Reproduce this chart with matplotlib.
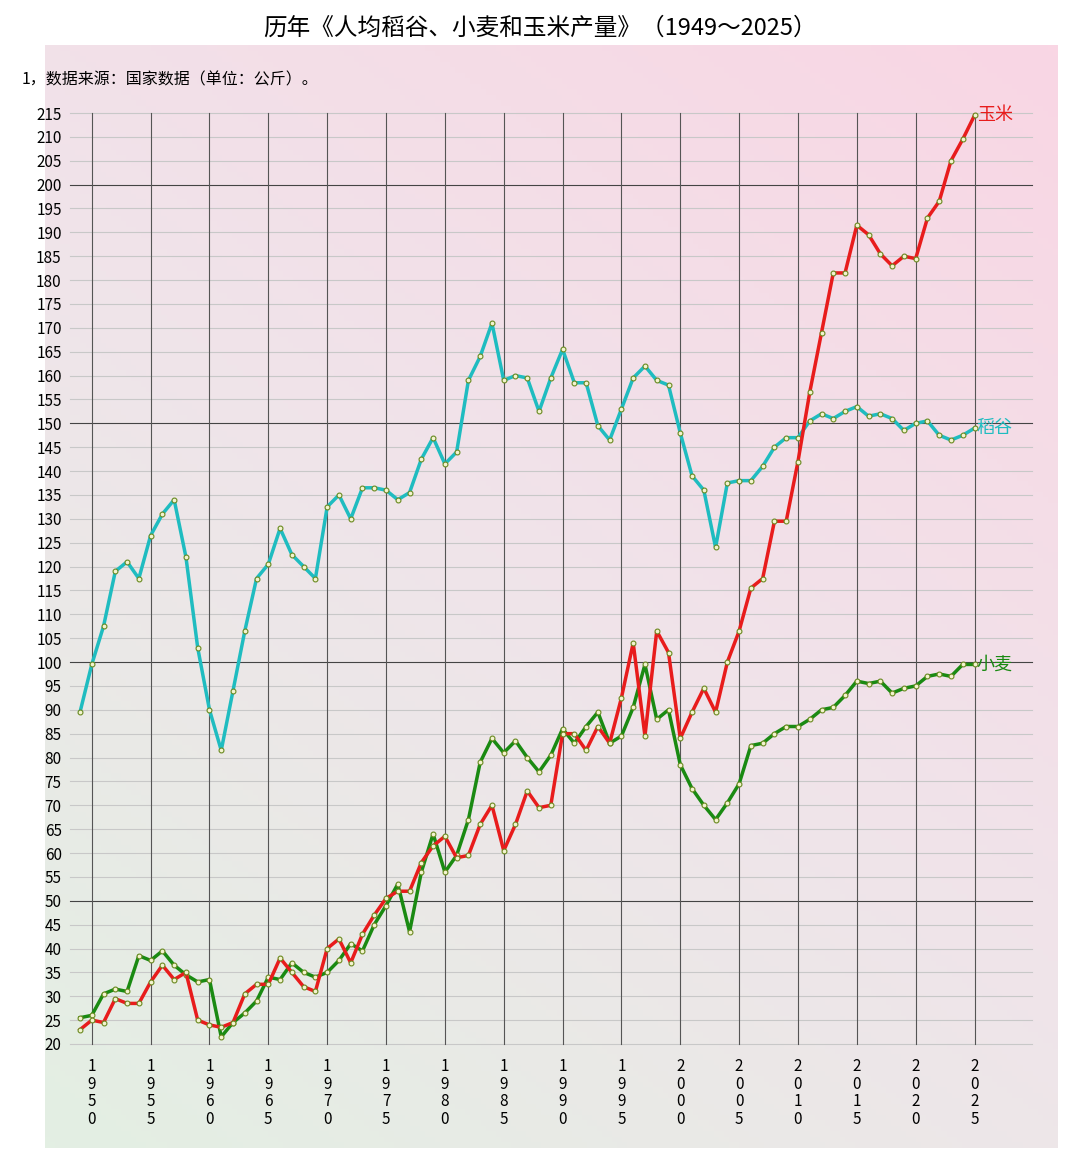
import numpy as np
import matplotlib
matplotlib.use("Agg")
import matplotlib.pyplot as plt
from matplotlib.colors import LinearSegmentedColormap

plt.rcParams['font.family'] = ['Noto Sans CJK SC', 'DejaVu Sans']

years = list(range(1949, 2026))
rice = [89.5, 99.5, 107.5, 119, 121, 117.5, 126.5, 131, 134, 122, 103, 90, 81.5, 94, 106.5, 117.5,
        120.5, 128, 122.5, 120, 117.5, 132.5, 135, 130, 136.5, 136.5, 136, 134, 135.5, 142.5, 147,
        141.5, 144, 159, 164, 171, 159, 160, 159.5, 152.5, 159.5, 165.5, 158.5, 158.5, 149.5, 146.5,
        153, 159.5, 162, 159, 158, 148, 139, 136, 124, 137.5, 138, 138, 141, 145, 147, 147, 150.5,
        152, 151, 152.5, 153.5, 151.5, 152, 151, 148.5, 150, 150.5, 147.5, 146.5, 147.5, 149]
wheat = [25.5, 26, 30.5, 31.5, 31, 38.5, 37.5, 39.5, 36.5, 34.5, 33, 33.5, 21.5, 24.5, 26.5, 29,
         34, 33.5, 37, 35, 34, 35, 37.5, 41, 39.5, 45, 49, 53.5, 43.5, 56, 64, 56, 59.5, 67, 79, 84,
         81, 83.5, 80, 77, 80.5, 86, 83, 86.5, 89.5, 83, 84.5, 90.5, 99.5, 88, 90, 78.5, 73.5, 70,
         67, 70.5, 74.5, 82.5, 83, 85, 86.5, 86.5, 88, 90, 90.5, 93, 96, 95.5, 96, 93.5, 94.5, 95,
         97, 97.5, 97, 99.5, 99.5]
corn = [23, 25, 24.5, 29.5, 28.5, 28.5, 33, 36.5, 33.5, 35, 25, 24, 23.5, 24.5, 30.5, 32.5, 32.5,
        38, 35, 32, 31, 40, 42, 37, 43, 47, 50.5, 52, 52, 58, 61.5, 63.5, 59, 59.5, 66, 70, 60.5,
        66, 73, 69.5, 70, 85, 85, 81.5, 86.5, 83, 92.5, 104, 84.5, 106.5, 102, 84, 89.5, 94.5,
        89.5, 100, 106.5, 115.5, 117.5, 129.5, 129.5, 142, 156.5, 169, 181.5, 181.5, 191.5, 189.5,
        185.5, 183, 185, 184.5, 193, 196.5, 205, 209.5, 214.5]

fig = plt.figure(figsize=(10.8, 11.61), dpi=100)
fig.patch.set_facecolor('white')

# gradient background
bg = fig.add_axes([45/1080, 1-1148/1161, (1058-45)/1080, (1148-45)/1161])
bg.axis('off')
cmap = LinearSegmentedColormap.from_list('g', ['#e3efe3', '#f0e4ea', '#f9d6e4'])
xx, yy = np.meshgrid(np.linspace(0, 1, 200), np.linspace(0, 1, 200))
bg.imshow((xx * 0.4 + yy * 0.6), cmap=cmap, aspect='auto', origin='lower', extent=[0, 1, 0, 1])

ax = fig.add_axes([70/1080, 1-1044/1161, (1032-70)/1080, (1044-113)/1161])
ax.patch.set_alpha(0)
x0 = 1949 - 10/11.77
ax.set_xlim(x0, x0 + 962/11.77)
ax.set_ylim(20, 215)
for s in ax.spines.values():
    s.set_visible(False)

for v in range(20, 216, 5):
    dark = v % 50 == 0
    ax.axhline(v, color='#444444' if dark else '#c8c8c8', lw=0.8 if dark else 0.8, zorder=1, clip_on=False)
for yr in range(1950, 2026, 5):
    ax.plot([yr, yr], [20, 215], color='#555555', lw=0.8, zorder=1, clip_on=False)
ax.set_yticks(range(20, 216, 5))
ax.tick_params(axis='y', length=0, labelsize=11, pad=6)
ax.set_xticks(range(1950, 2026, 5))
ax.set_xticklabels(['\n'.join(str(y)) for y in range(1950, 2026, 5)], fontsize=11, linespacing=1.05)
ax.tick_params(axis='x', length=0, pad=10)

mk = dict(marker='o', ms=3.5, mfc='#f4f4d0', mec='#6a8a20', mew=0.8)
ax.plot(years, rice, color='#1fbcc0', lw=2.5, zorder=3, clip_on=False, **mk)
ax.plot(years, wheat, color='#1a8a12', lw=2.5, zorder=4, clip_on=False, **mk)
ax.plot(years, corn, color='#e81c1c', lw=2.5, zorder=5, clip_on=False, **mk)

ax.text(2025.2, corn[-1], '玉米', color='#e81c1c', fontsize=13, va='center', ha='left')
ax.text(2025.2, rice[-1], '稻谷', color='#1fbcc0', fontsize=13, va='center', ha='left')
ax.text(2025.2, wheat[-1], '小麦', color='#1a8a12', fontsize=13, va='center', ha='left')

fig.text(0.5, 1-28/1161, '历年《人均稻谷、小麦和玉米产量》（1949～2025）', ha='center', va='center', fontsize=17)
fig.text(22/1080, 1-80/1161, '1，数据来源：国家数据（单位：公斤）。', ha='left', va='center', fontsize=11.5)

fig.savefig('out.png', dpi=100)
